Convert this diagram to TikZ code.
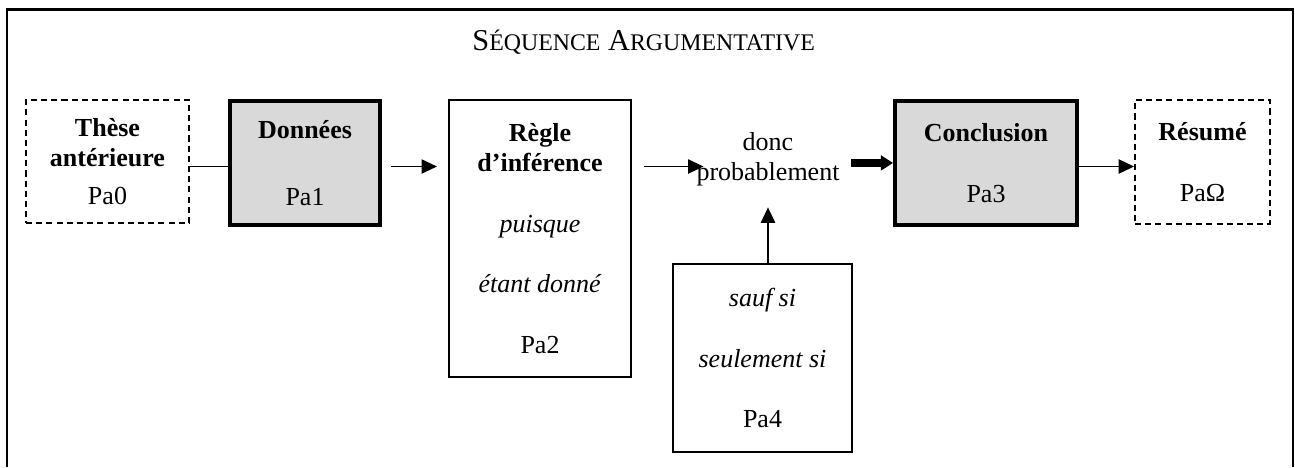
\documentclass[tikz,border=0pt]{standalone}
\usepackage{fontspec}
\setmainfont{Liberation Serif}
\usetikzlibrary{arrows.meta}
\definecolor{boxgray}{HTML}{D9D9D9}
\newcommand*{\petitcap}[1]{{\fontsize{11}{13}\selectfont #1}}

\begin{document}
\begin{tikzpicture}[x=0.016216cm, y=-0.016216cm, >={Triangle[length=0.25cm,width=0.23cm]},
      every node/.style={font=\fontsize{12}{14}\selectfont, align=center, inner sep=0pt},
      plainbox/.style={draw, line width=0.9pt, anchor=north},
      dashbox/.style={plainbox, dash pattern=on 2.8pt off 1.9pt},
      keybox/.style={plainbox, line width=1.8pt, fill=boxgray},
      link/.style={line width=0.8pt}]
      \useasboundingbox (0,0) rectangle (1295,467);
      \draw[line width=1.1pt] (7,467) -- (7,9.5) -- (1293,9.5) -- (1293,467);
      \node[anchor=base west, font=\fontsize{14}{16}\selectfont] (titre) at (472,50)
        {S\petitcap{ÉQUENCE} A\petitcap{RGUMENTATIVE}};
      \coordinate (axe) at (0,166.5);
      % the chain of boxes
      \node[dashbox, minimum width=2.643cm, minimum height=1.995cm] (these) at (107.5,99)
        {\textbf{Thèse}\\\textbf{antérieure}\\[3.5pt]Pa0};
      \node[keybox, minimum width=2.432cm, minimum height=2.011cm] (donnees) at (305,99)
        {\textbf{Données}\\[17pt]Pa1};
      \node[plainbox, minimum width=2.951cm, minimum height=4.492cm] (regle) at (540,99)
        {\textbf{Règle}\\\textbf{d’inférence}\\[14pt]\textit{puisque}\\[14pt]\textit{étant donné}\\[14pt]Pa2};
      \node (donc) at (768,159) {donc\\probablement};
      \node[plainbox, minimum width=2.903cm, minimum height=3.049cm] (sauf) at (762.5,263)
        {\textit{sauf si}\\[14pt]\textit{seulement si}\\[14pt]Pa4};
      \node[keybox, minimum width=2.951cm, minimum height=2.011cm] (conclusion) at (986,99)
        {\textbf{Conclusion}\\[14pt]Pa3};
      \node[dashbox, minimum width=2.189cm, minimum height=2.011cm] (resume) at (1202.5,99)
        {\textbf{Résumé}\\[14pt]PaΩ};
      % connectors
      \draw[link] (these.east |- axe) -- (donnees.west |- axe);
      \draw[link, ->, shorten <=0.15cm, shorten >=0.18cm] (donnees.east |- axe) -- (regle.west |- axe);
      \draw[link, ->, shorten <=0.19cm, shorten >=-0.12cm] (regle.east |- axe) -- (donc.west |- axe);
      \draw[-{Triangle[length=0.2cm,width=0.24cm]}, line width=4pt, shorten <=0.18cm]
        (donc.east |- conclusion.west) -- (conclusion.west);
      \draw[link, ->] (conclusion.east |- axe) -- (resume.west |- axe);
      \draw[link, ->, shorten >=0.34cm] (donc.south |- sauf.north) -- (donc.south);
    \end{tikzpicture}
\end{document}
